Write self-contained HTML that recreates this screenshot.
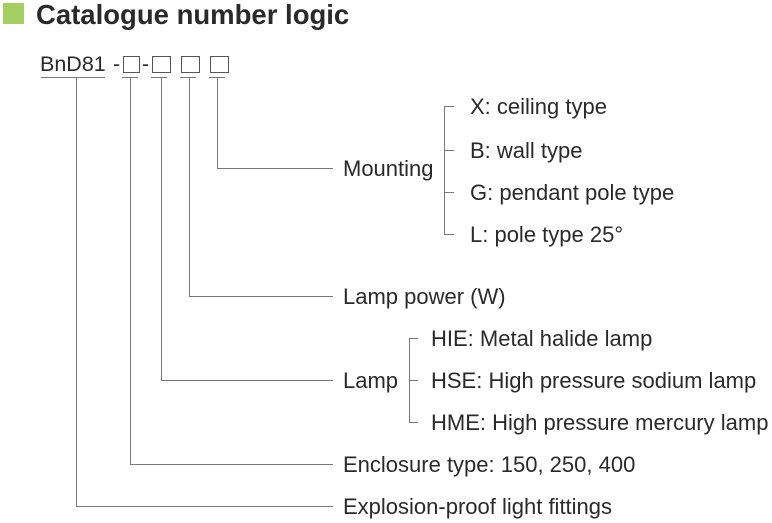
<!DOCTYPE html>
<html><head><style>
html,body{margin:0;padding:0;background:#fff;width:772px;height:523px;overflow:hidden}
svg text{font-family:"Liberation Sans",Arial,sans-serif;fill:#2a2a2a}
</style></head><body>
<svg width="772" height="523" viewBox="0 0 772 523" xmlns="http://www.w3.org/2000/svg">
<rect x="3" y="3" width="21" height="21" fill="#a6cf63"/>
<text x="36" y="24" font-size="27.5" font-weight="bold" fill="#2a2a2a">Catalogue number logic</text>
<text x="40" y="71" font-size="21.5">BnD81</text>
<text x="113" y="71" font-size="21.5">-</text>
<text x="142" y="71" font-size="21.5">-</text>
<g fill="none" stroke="#555" stroke-width="1">
<rect x="123.5" y="56.5" width="16" height="16"/>
<rect x="152.5" y="56.5" width="18" height="16"/>
<rect x="181.5" y="56.5" width="18" height="16"/>
<rect x="210.5" y="56.5" width="18" height="16"/>
</g>
<g stroke="#777" stroke-width="1" fill="none">
<path d="M41 77.5H105M122 77.5H138M151 77.5H167M180 77.5H196M209 77.5H225"/>
<path d="M76.5 77V506.5H333"/>
<path d="M130.5 77V464.5H333"/>
<path d="M161.5 77V380.5H333"/>
<path d="M189.5 77V296.5H333"/>
<path d="M217.5 77V168.5H333"/>
<path d="M454 106.5H444.5V234.5H454M444 150.5H454M444 192.5H454"/>
<path d="M418 338.5H409.5V422.5H418M409 380.5H418"/>
</g>
<g font-size="22">
<text x="343" y="176">Mounting</text>
<text x="470" y="114">X: ceiling type</text>
<text x="470" y="158">B: wall type</text>
<text x="470" y="200">G: pendant pole type</text>
<text x="470" y="242">L: pole type 25°</text>
<text x="343" y="304">Lamp power (W)</text>
<text x="343" y="388">Lamp</text>
<text x="431" y="346">HIE: Metal halide lamp</text>
<text x="431" y="388">HSE: High pressure sodium lamp</text>
<text x="431" y="430">HME: High pressure mercury lamp</text>
<text x="343" y="472">Enclosure type: 150, 250, 400</text>
<text x="343" y="514">Explosion-proof light fittings</text>
</g>
</svg>
</body></html>
